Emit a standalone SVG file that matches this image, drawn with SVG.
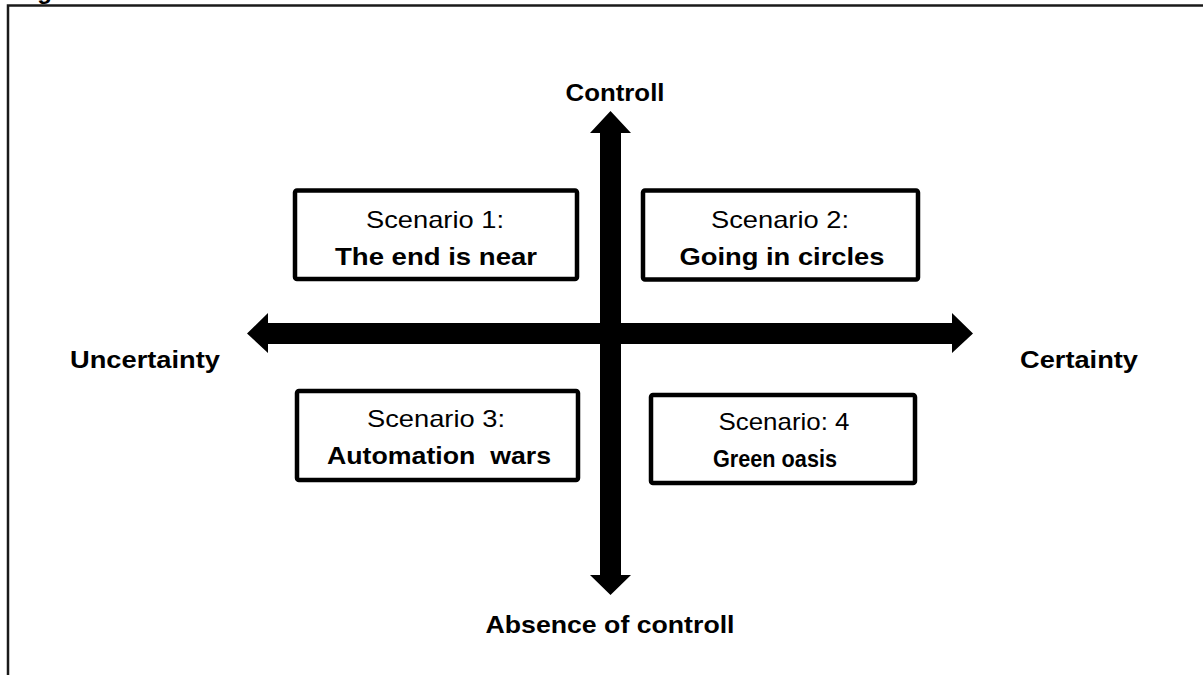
<svg xmlns="http://www.w3.org/2000/svg" width="1203" height="675" viewBox="0 0 1203 675">
<style>
.frame{fill:none;stroke:#1a1a1a;stroke-width:2.5}
.box{fill:#fff;stroke:#000;stroke-width:4.5}
.arrow{fill:#000;stroke:none}
.lbl{font-family:"Liberation Sans",Arial,sans-serif;font-size:24px;font-weight:bold;fill:#000;text-anchor:middle}
.reg{font-family:"Liberation Sans",Arial,sans-serif;font-size:24px;fill:#000;text-anchor:middle}
.bld{font-family:"Liberation Sans",Arial,sans-serif;font-size:24px;font-weight:bold;fill:#000;text-anchor:middle}
</style>
<rect width="1203" height="675" fill="#fff"/>
<text x="16" y="-1" font-family="Liberation Sans, Arial, sans-serif" font-size="24" font-weight="bold">Fig</text>
<path class="frame" d="M8,675 V5.5 H1203"/>
<g id="connectors">
<polygon class="arrow" points="600,133 590,133 610.5,111 631,133 621,133 621,575 631,575 610.5,595 590,575 600,575"/>
<polygon class="arrow" points="268,323 268,313 247,333.5 268,353 268,344 952,344 952,353 973,333.5 952,313 952,323"/>
</g>
<g id="axis-top"><text class="lbl" x="615" y="101" textLength="99" lengthAdjust="spacingAndGlyphs">Controll</text></g>
<g id="axis-bottom"><text class="lbl" x="610" y="633" textLength="249" lengthAdjust="spacingAndGlyphs">Absence of controll</text></g>
<g id="axis-left"><text class="lbl" x="145" y="368" textLength="150" lengthAdjust="spacingAndGlyphs">Uncertainty</text></g>
<g id="axis-right"><text class="lbl" x="1079" y="368" textLength="118" lengthAdjust="spacingAndGlyphs">Certainty</text></g>
<g id="scenario1">
<rect class="box" x="295" y="190.5" width="282" height="88.5" rx="2"/>
<text class="reg" x="435" y="228" textLength="138" lengthAdjust="spacingAndGlyphs">Scenario 1:</text>
<text class="bld" x="436" y="265" textLength="202" lengthAdjust="spacingAndGlyphs">The end is near</text>
</g>
<g id="scenario2">
<rect class="box" x="643" y="190.5" width="275" height="89" rx="2"/>
<text class="reg" x="780" y="228" textLength="138" lengthAdjust="spacingAndGlyphs">Scenario 2:</text>
<text class="bld" x="782" y="265" textLength="205" lengthAdjust="spacingAndGlyphs">Going in circles</text>
</g>
<g id="scenario3">
<rect class="box" x="297" y="391" width="281" height="89" rx="2"/>
<text class="reg" x="436" y="427" textLength="138" lengthAdjust="spacingAndGlyphs">Scenario 3:</text>
<text class="bld" x="439" y="464" textLength="224" lengthAdjust="spacingAndGlyphs" xml:space="preserve">Automation  wars</text>
</g>
<g id="scenario4">
<rect class="box" x="651" y="395" width="264" height="88" rx="2"/>
<text class="reg" x="784" y="430" textLength="131" lengthAdjust="spacingAndGlyphs">Scenario: 4</text>
<text class="bld" x="775" y="467" textLength="124" lengthAdjust="spacingAndGlyphs">Green oasis</text>
</g>
</svg>
